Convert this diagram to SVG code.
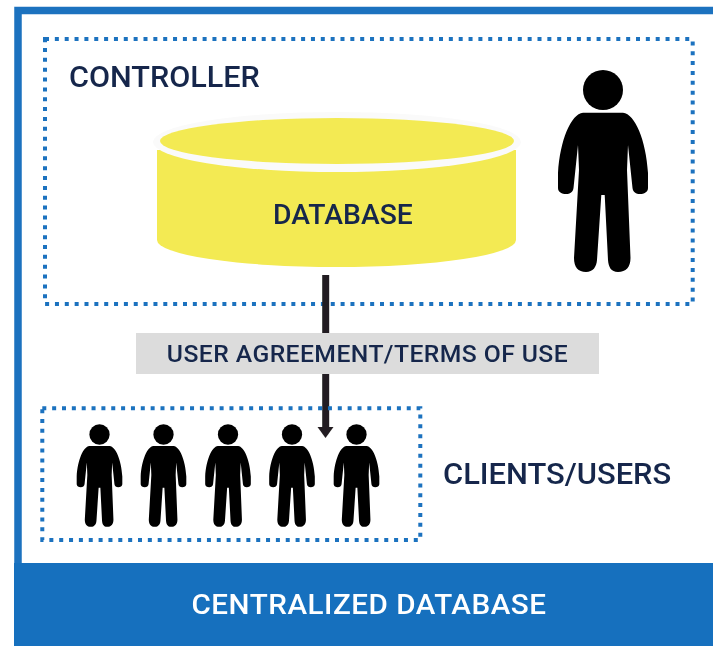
<svg xmlns="http://www.w3.org/2000/svg" xmlns:xlink="http://www.w3.org/1999/xlink" width="713" height="647" viewBox="0 0 713 647">
<style>
.t{font-family:Roboto,"Liberation Sans",sans-serif;font-weight:500;fill:#14284b}
.d{fill:none;stroke:#1a72bf;stroke-width:4;stroke-dasharray:4 5.850}
.s{filter:url(#soft)}
</style>
<defs>
<filter id="soft" x="0" y="0" width="713" height="647" filterUnits="userSpaceOnUse"><feGaussianBlur stdDeviation="0.600"/></filter>
<g id="p" fill="#000">
<circle cx="0" cy="0" r="20"/>
<path d="M-20 22.7H20C32 24 43 50 45 83V98C45 102 41 104 37 104C33 104 30 102 29.500 98L25 55L24 80L27.500 168C27.500 177 23 182 15 182C8 182 5.500 177 5 170L1.700 105H-1.700L-6 170C-6.500 177 -10 182 -17 182C-25 182 -29 177 -29 168L-24 80L-25 55L-29.500 98C-30 102 -33 104 -37 104C-41 104 -45 102 -45 98V83C-43 50 -32 24 -20 22.700Z"/>
</g>
</defs>
<rect width="713" height="647" fill="#fff"/>
<g class="s">
<g id="frame">
<path d="M713 10.500H18V600" fill="none" stroke="#1a72bf" stroke-width="7.500"/>
<rect x="14" y="563" width="699" height="83" fill="#1670be"/>
<text transform="translate(369 614) scale(1.057 1)" text-anchor="middle" font-size="28" class="t" style="fill:#fff" letter-spacing="0.500">CENTRALIZED DATABASE</text>
</g>
<g id="controller">
<rect class="d" x="45" y="39" width="647.700" height="265"/>
<text transform="translate(69 87) scale(1.055 1)" font-size="29" class="t">CONTROLLER</text>
</g>
<g id="database">
<path d="M157 150V240A179.500 27 0 0 0 516 240V150Z" fill="#f3ea53"/>
<ellipse cx="337" cy="142" rx="184" ry="30" fill="#fafafa"/>
<ellipse cx="337" cy="141" rx="177" ry="23" fill="#f3ea53"/>
<text transform="translate(343 224) scale(1.03 1)" text-anchor="middle" font-size="27.500" class="t">DATABASE</text>
</g>
<g id="controller-person"><use xlink:href="#p" href="#p" transform="translate(603 90)"/></g>
<g id="connectors">
<path d="M325.700 275V334M325.700 373V430" stroke="#231f20" stroke-width="7" fill="none"/>
<path d="M317.500 427H333.500L325.500 438Z" fill="#231f20"/>
</g>
<g id="agreement">
<rect x="136" y="333" width="463" height="41" fill="#dcdcdc"/>
<text transform="translate(367.500 362) scale(1.052 1)" text-anchor="middle" font-size="23.500" class="t" letter-spacing="0.400">USER AGREEMENT/TERMS OF USE</text>
</g>
<g id="clients">
<rect class="d" x="42.300" y="408.300" width="378" height="131.700"/>
<use xlink:href="#p" href="#p" transform="translate(99.500 434.500) scale(.507)"/>
<use xlink:href="#p" href="#p" transform="translate(163.500 434.500) scale(.507)"/>
<use xlink:href="#p" href="#p" transform="translate(228 434.500) scale(.507)"/>
<use xlink:href="#p" href="#p" transform="translate(292 434.500) scale(.507)"/>
<use xlink:href="#p" href="#p" transform="translate(356.500 434.500) scale(.507)"/>
<text transform="translate(443 484) scale(1.065 1)" font-size="29" class="t">CLIENTS/USERS</text>
</g>
</g>
</svg>
